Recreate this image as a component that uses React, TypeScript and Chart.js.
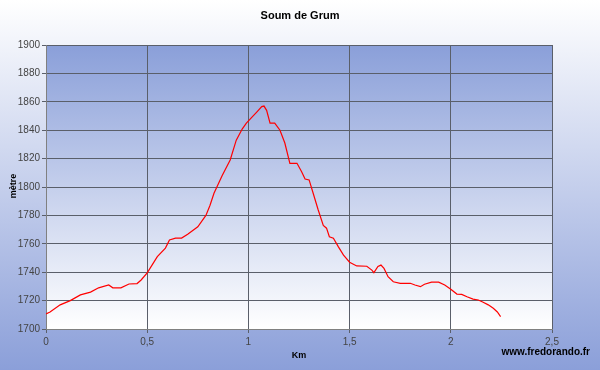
import React, { useEffect, useRef } from "react";
import { Chart, registerables } from "chart.js";

Chart.register(...registerables);

const distanceKm = [
  0, 0.02, 0.07, 0.12, 0.17, 0.22, 0.26, 0.31, 0.33, 0.37, 0.41, 0.45, 0.47, 0.5,
  0.55, 0.59, 0.61, 0.64, 0.67, 0.7, 0.75, 0.79, 0.81, 0.83, 0.87, 0.91, 0.94,
  0.97, 0.99, 1.02, 1.04, 1.066, 1.077, 1.09, 1.107, 1.13, 1.156, 1.18, 1.205,
  1.24, 1.263, 1.28, 1.3, 1.32, 1.345, 1.37, 1.386, 1.4, 1.42, 1.444, 1.47, 1.5,
  1.535, 1.585, 1.61, 1.62, 1.64, 1.655, 1.67, 1.69, 1.716, 1.75, 1.8, 1.823,
  1.85, 1.87, 1.905, 1.94, 1.97, 2.0, 2.03, 2.054, 2.08, 2.11, 2.136, 2.16,
  2.185, 2.21, 2.23, 2.246,
];

const altitudeM = [
  1710.6, 1712, 1717, 1720, 1724, 1726, 1729, 1731, 1729, 1729, 1731.7, 1732,
  1734.5, 1739.5, 1751, 1757, 1762.7, 1764, 1764, 1766.7, 1772, 1780, 1787,
  1795.6, 1808, 1819, 1833, 1841, 1845, 1849.5, 1852.6, 1856.6, 1857, 1854,
  1845, 1845, 1840, 1831, 1816.7, 1816.7, 1810.8, 1805.6, 1805, 1795.6, 1783.8,
  1773, 1771, 1765, 1764, 1758, 1752, 1747, 1744.4, 1744.2, 1741.5, 1739.7,
  1744, 1745, 1742.7, 1736.8, 1733.3, 1732.2, 1732.2, 1731, 1729.8, 1731.5,
  1733, 1733, 1731, 1728, 1724.6, 1724.4, 1722.7, 1721, 1720.4, 1718.8, 1717,
  1714.6, 1712, 1708.7,
];

const xTickLabels = ["0", "0,5", "1", "1,5", "2", "2,5"];
const yMin = 1700;
const yMax = 1900;
const yStep = 20;
const xMax = 2.5;
const xStep = 0.5;

const FONT = "'Liberation Sans', Arial, sans-serif";

const decorPlugin = {
  id: "decor",
  beforeDraw(chart: any) {
    const { ctx, width, height, chartArea } = chart;
    ctx.save();
    const g = ctx.createLinearGradient(0, 0, 0, height);
    g.addColorStop(0, "#ffffff");
    g.addColorStop(1, "#8b9fd9");
    ctx.fillStyle = g;
    ctx.fillRect(0, 0, width, height);
    const g2 = ctx.createLinearGradient(0, chartArea.top, 0, chartArea.bottom);
    g2.addColorStop(0, "#8a9fd9");
    g2.addColorStop(1, "#ffffff");
    ctx.fillStyle = g2;
    ctx.fillRect(chartArea.left, chartArea.top, chartArea.right - chartArea.left, chartArea.bottom - chartArea.top);
    ctx.restore();
  },
  afterDraw(chart: any) {
    const { ctx } = chart;
    ctx.save();
    ctx.fillStyle = "#000000";
    ctx.textAlign = "center";
    ctx.textBaseline = "middle";
    ctx.font = `bold 11px ${FONT}`;
    ctx.fillText("Soum de Grum", 300, 16);
    ctx.font = `bold 9px ${FONT}`;
    ctx.fillText("Km", 299, 356);
    ctx.font = `bold 10px ${FONT}`;
    ctx.textAlign = "right";
    ctx.fillText("www.fredorando.fr", 590, 352);
    ctx.translate(14, 186);
    ctx.rotate(-Math.PI / 2);
    ctx.textAlign = "center";
    ctx.font = `bold 9px ${FONT}`;
    ctx.fillText("mètre", 0, 0);
    ctx.restore();
  },
};

export default function App() {
  const canvasRef = useRef<HTMLCanvasElement | null>(null);

  useEffect(() => {
    document.body.style.margin = "0";
    const canvas = canvasRef.current!;
    const data = distanceKm.map((x, i) => ({ x, y: altitudeM[i] }));
    const chart = new Chart(canvas, {
      type: "line",
      data: {
        datasets: [
          {
            data,
            borderColor: "#ff0000",
            borderWidth: 1.2,
            pointRadius: 0,
            tension: 0,
            fill: false,
          },
        ],
      },
      options: {
        animation: false,
        responsive: false,
        devicePixelRatio: 1,
        layout: { padding: { top: 45, right: 48, left: 0, bottom: 0 } },
        plugins: {
          legend: { display: false },
          title: { display: false },
          tooltip: { enabled: false },
        },
        scales: {
          x: {
            type: "linear",
            min: 0,
            max: xMax,
            afterFit: (s: any) => {
              s.height = 41;
            },
            ticks: {
              stepSize: xStep,
              autoSkip: false,
              maxRotation: 0,
              padding: 3,
              color: "#444444",
              font: { size: 10, family: FONT },
              callback: (v: any) => xTickLabels[Math.round(Number(v) / xStep)] ?? "",
            },
            grid: { color: "#5a5f6a", lineWidth: 1, tickLength: 4, drawTicks: true },
            border: { color: "#808080", width: 1 },
          },
          y: {
            type: "linear",
            min: yMin,
            max: yMax,
            afterFit: (s: any) => {
              s.width = 46;
            },
            ticks: {
              stepSize: yStep,
              padding: 2,
              color: "#444444",
              font: { size: 10, family: FONT },
              callback: (v: any) => String(v),
            },
            grid: { color: "#5a5f6a", lineWidth: 1, tickLength: 4 },
            border: { color: "#808080", width: 1 },
          },
        },
      },
      plugins: [decorPlugin],
    });
    return () => chart.destroy();
  }, []);

  return (
    <div style={{ position: "absolute", left: 0, top: 0, width: 600, height: 370 }}>
      <canvas ref={canvasRef} width={600} height={370} style={{ width: 600, height: 370 }} />
    </div>
  );
}
